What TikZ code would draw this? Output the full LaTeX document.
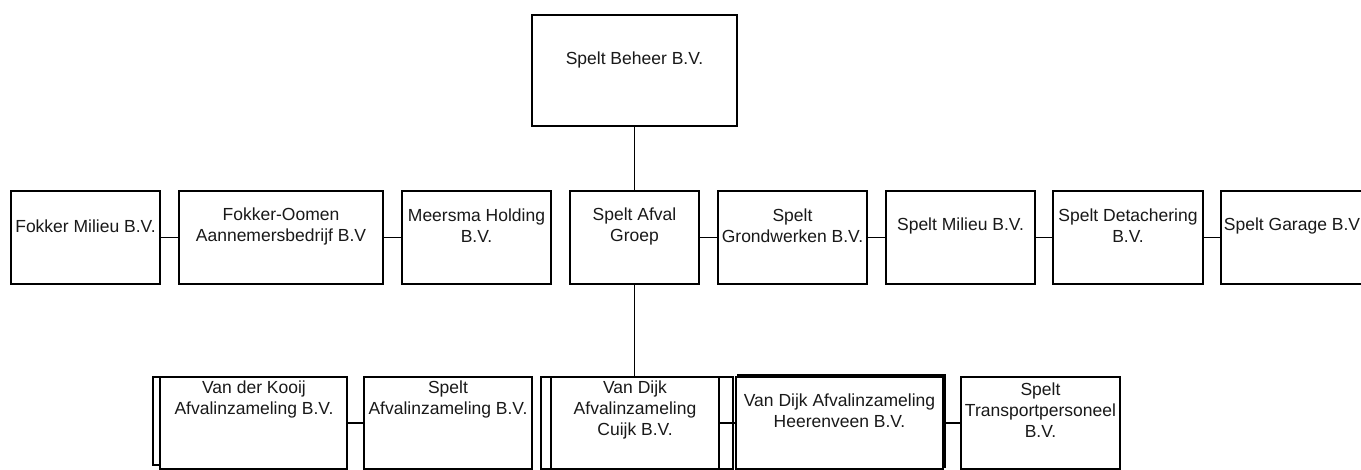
\documentclass[tikz,border=0pt]{standalone}
\usepackage{fontspec}
\setmainfont{Liberation Sans}
\begin{document}
\begin{tikzpicture}[x=1pt,y=-1pt,
  box/.style={draw=black, fill=white, line width=1.5pt, rectangle, inner sep=0pt, outer sep=0pt},
  txt/.style={align=center, inner sep=0pt, font=\fontsize{17.5}{21}\selectfont, text=black!90},
  link/.style={draw=black, line width=1.5pt}]
\useasboundingbox (0,0) rectangle (1361,470);
\fill[white] (0,0) rectangle (1361,470);
\clip (0,0) rectangle (1361,470);
% top
\node[box, minimum width=205pt, minimum height=111pt] (sb) at (634.5,70.5) {};
\node[txt] (sbt) at (634.5,60) {Spelt Beheer B.V.};
% middle row
\node[box, minimum width=149pt, minimum height=93pt] (fm) at (85.5,237.5) {};
\node[box, minimum width=204pt, minimum height=93pt] (fo) at (281,237.5) {};
\node[box, minimum width=149pt, minimum height=93pt] (mh) at (476.5,237.5) {};
\node[box, minimum width=129pt, minimum height=93pt] (ag) at (634.5,237.5) {};
\node[box, minimum width=149pt, minimum height=93pt] (sg) at (792.5,237.5) {};
\node[box, minimum width=149pt, minimum height=93pt] (sm) at (960.5,237.5) {};
\node[box, minimum width=150pt, minimum height=93pt] (sd) at (1128,237.5) {};
\node[box, minimum width=149pt, minimum height=93pt] (ga) at (1295.5,237.5) {};
\node[txt] at (85.5,226) {Fokker Milieu B.V.};
\node[txt] at (281,226) {Fokker-Oomen\\Aannemersbedrijf B.V};
\node[txt] at (476.5,226) {Meersma Holding\\B.V.};
\node[txt] at (634.5,226) {Spelt Afval\\Groep};
\node[txt] at (792.5,226) {Spelt\\Grondwerken B.V.};
\node[txt] at (960.5,226) {Spelt Milieu B.V.};
\node[txt] at (1128,226) {Spelt Detachering\\B.V.};
\node[txt] at (1292,226) {Spelt Garage B.V};
% bottom row
\node[box, minimum width=187pt, minimum height=88pt] (kb) at (246.5,421) {};
\node[box, minimum width=187pt, minimum height=92pt] (kf) at (253.5,423) {};
\node[box, minimum width=168pt, minimum height=92pt] (sa) at (448,423) {};
\node[box, minimum width=192pt, minimum height=92pt] (cb) at (637,423) {};
\node[box, minimum width=168pt, minimum height=92pt] (cf) at (635,423) {};
\node[box, minimum width=207pt, minimum height=92pt] (hb) at (841.5,421) {};
\node[box, minimum width=207pt, minimum height=92pt] (hf) at (839.5,423) {};
\node[box, minimum width=159pt, minimum height=92pt] (tp) at (1040.5,423) {};
\node[txt] at (254,399) {Van der Kooij\\Afvalinzameling B.V.};
\node[txt] at (448,399) {Spelt\\Afvalinzameling B.V.};
\node[txt] at (635,410) {Van Dijk\\Afvalinzameling\\Cuijk B.V.};
\node[txt] at (839.5,411) {Van Dijk Afvalinzameling\\Heerenveen B.V.};
\node[txt] at (1040.5,410) {Spelt\\Transportpersoneel\\B.V.};
% connectors
\draw[link] (sb.south) -- (ag.north);
\draw[link] (ag.south) -- (ag.south |- cf.north);
\draw[link] (fm.east) -- (fo.west);
\draw[link] (fo.east) -- (mh.west);
\draw[link] (ag.east) -- (sg.west);
\draw[link] (sg.east) -- (sm.west);
\draw[link] (sm.east) -- (sd.west);
\draw[link] (sd.east) -- (ga.west);
\draw[link] (kf.east) -- (sa.west);
\draw[link] (cf.east) -- (hf.west);
\draw[link] (hb.east |- hf.east) -- (tp.west);
\end{tikzpicture}
\end{document}
